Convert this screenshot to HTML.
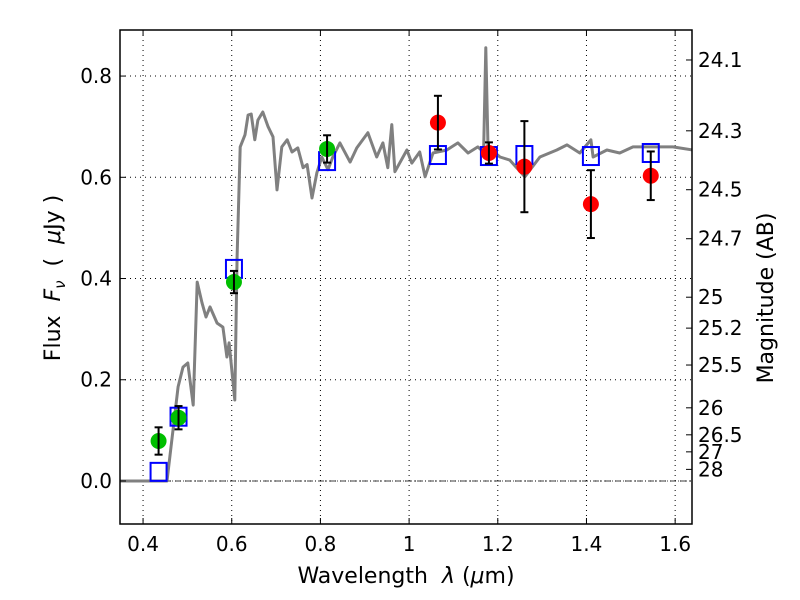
<!DOCTYPE html>
<html><head><meta charset="utf-8"><style>
html,body{margin:0;padding:0;background:#fff;}
svg{display:block;font-family:"DejaVu Sans","Liberation Sans",sans-serif;}
</style></head><body>
<svg id="chart" width="800" height="600" viewBox="0 0 800 600"></svg>
<script>
const specLam = [0.348,0.454,0.479,0.490,0.501,0.513,0.522,0.533,0.542,0.551,0.567,0.580,0.589,0.594,0.607,0.612,0.619,0.630,0.637,0.644,0.652,0.659,0.670,0.682,0.693,0.702,0.713,0.725,0.736,0.749,0.761,0.770,0.781,0.792,0.803,0.817,0.828,0.844,0.867,0.882,0.907,0.927,0.941,0.952,0.961,0.968,0.995,1.006,1.024,1.036,1.054,1.085,1.110,1.133,1.155,1.168,1.173,1.178,1.205,1.227,1.261,1.295,1.333,1.356,1.385,1.410,1.415,1.446,1.475,1.505,1.550,1.595,1.640];
const specFlux = [0,0,0.186,0.225,0.233,0.150,0.393,0.352,0.324,0.344,0.312,0.304,0.245,0.273,0.160,0.443,0.660,0.684,0.723,0.725,0.674,0.713,0.729,0.700,0.680,0.575,0.660,0.674,0.650,0.658,0.619,0.625,0.559,0.609,0.640,0.615,0.640,0.668,0.630,0.658,0.688,0.640,0.668,0.619,0.704,0.611,0.654,0.628,0.650,0.601,0.648,0.654,0.668,0.648,0.660,0.650,0.856,0.660,0.640,0.634,0.601,0.640,0.654,0.664,0.648,0.674,0.640,0.654,0.648,0.660,0.660,0.660,0.654];
const greenLam = [0.435,0.480,0.605,0.815];
const greenFlux = [0.079,0.125,0.393,0.656];
const greenErr = [0.027,0.023,0.022,0.027];
const redLam = [1.065,1.180,1.260,1.410,1.545];
const redFlux = [0.708,0.648,0.621,0.547,0.603];
const redErr = [0.053,0.021,0.090,0.067,0.048];
const modelLam = [0.435,0.480,0.605,0.815,1.065,1.180,1.260,1.410,1.545];
const modelFlux = [0.018,0.127,0.419,0.632,0.644,0.642,0.644,0.642,0.648];
const xTicks = [0.4,0.6,0.8,1.0,1.2,1.4,1.6];
const xTickLabels = ["0.4","0.6","0.8","1","1.2","1.4","1.6"];
const yTicks = [0.0,0.2,0.4,0.6,0.8];
const yTickLabels = ["0.0","0.2","0.4","0.6","0.8"];
const magTicks = [24.1,24.3,24.5,24.7,25,25.2,25.5,26,26.5,27,28];

const L=120,R=692,T=30,B=524;
const XMIN=0.348,XMAX=1.638,YMIN=-0.085,YMAX=0.891;
const X=v=>L+(v-XMIN)/(XMAX-XMIN)*(R-L);
const Y=v=>B-(v-YMIN)/(YMAX-YMIN)*(B-T);
const NS="http://www.w3.org/2000/svg";
const svg=document.getElementById('chart');
function mk(tag,attrs,parent){const e=document.createElementNS(NS,tag);for(const k in attrs)e.setAttribute(k,attrs[k]);(parent||svg).appendChild(e);return e;}

const defs=mk('defs',{});const cp=mk('clipPath',{id:'clip'},defs);mk('rect',{x:L,y:T,width:R-L,height:B-T},cp);

const grid=mk('g',{});


xTicks.forEach(t=>mk('line',{x1:X(t),x2:X(t),y1:T,y2:B,stroke:'#000','stroke-width':1,'stroke-dasharray':'1,4'},grid));
yTicks.forEach(t=>mk('line',{x1:L,x2:R,y1:Y(t),y2:Y(t),stroke:'#000','stroke-width':1,'stroke-dasharray':'1,4'},grid));
const zl=mk('line',{x1:L,x2:R,y1:Y(0),y2:Y(0),stroke:'#000','stroke-width':0.8,'stroke-dasharray':'6,2,1,2'});



const sp=mk('path',{d:specLam.map((l,i)=>(i?'L':'M')+X(l).toFixed(1)+','+Y(specFlux[i]).toFixed(1)).join(''),fill:'none',stroke:'#808080','stroke-width':3,'clip-path':'url(#clip)','stroke-linejoin':'round'});



modelLam.forEach((l,i)=>{
  const r=mk('rect',{x:X(l)-8,y:Y(modelFlux[i])-9,width:16,height:18,fill:'none',stroke:'#0000ff','stroke-width':2});
  
  
});

function points(lams,fl,er,color,name){
  lams.forEach((l,i)=>{
    const g=mk('g',{});
    
    
    const x=X(l),y1=Y(fl[i]+er[i]),y2=Y(fl[i]-er[i]);
    mk('circle',{cx:x,cy:Y(fl[i]),r:8,fill:color},g);
    mk('line',{x1:x,x2:x,y1:y1,y2:y2,stroke:'#000','stroke-width':2},g);
    mk('line',{x1:x-4,x2:x+4,y1:y1,y2:y1,stroke:'#000','stroke-width':2},g);
    mk('line',{x1:x-4,x2:x+4,y1:y2,y2:y2,stroke:'#000','stroke-width':2},g);
  });
}
points(greenLam,greenFlux,greenErr,'#00bf00','hst-photometry-point');
points(redLam,redFlux,redErr,'#ff0000','ir-photometry-point');

const fr=mk('rect',{x:L,y:T,width:R-L,height:B-T,fill:'none',stroke:'#000','stroke-width':1.5});



xTicks.forEach((t,i)=>{
  mk('line',{x1:X(t),x2:X(t),y1:B,y2:B-6,stroke:'#000'});
  mk('line',{x1:X(t),x2:X(t),y1:T,y2:T+6,stroke:'#000'});
  const tx=mk('text',{x:X(t),y:B+27,'font-size':20,'text-anchor':'middle'});
  tx.textContent=xTickLabels[i];
  
  
});
yTicks.forEach((t,i)=>{
  mk('line',{x1:L,x2:L+6,y1:Y(t),y2:Y(t),stroke:'#000'});
  const tx=mk('text',{x:L-8,y:Y(t)+7,'font-size':20,'text-anchor':'end'});
  tx.textContent=yTickLabels[i];
  
  
});
magTicks.forEach(m=>{
  const f=Math.pow(10,(23.9-m)/2.5);
  const y=Y(f);
  mk('line',{x1:R,x2:R-6,y1:y,y2:y,stroke:'#000'});
  const tx=mk('text',{x:R+6,y:y+7,'font-size':20});
  tx.textContent=String(m);
  
  
});
</script>
<svg style="position:absolute;left:0;top:0" width="800" height="600" xml:space="preserve">
<text x="406" y="583" font-size="22" text-anchor="middle" font-family="DejaVu Sans, Liberation Sans, sans-serif" style="white-space:pre">Wavelength  <tspan font-style="italic">λ</tspan> (<tspan font-style="italic">μ</tspan>m)</text>
<text transform="translate(60,278) rotate(-90)" font-size="22" text-anchor="middle" font-family="DejaVu Sans, Liberation Sans, sans-serif" style="white-space:pre">Flux  <tspan font-style="italic">F</tspan><tspan font-style="italic" font-size="15" dy="5">ν</tspan><tspan dy="-5">  (  </tspan><tspan font-style="italic">μ</tspan>Jy )</text>
<text transform="translate(773,298) rotate(-90)" font-size="22" text-anchor="middle" font-family="DejaVu Sans, Liberation Sans, sans-serif">Magnitude (AB)</text>
</svg>
</body></html>
